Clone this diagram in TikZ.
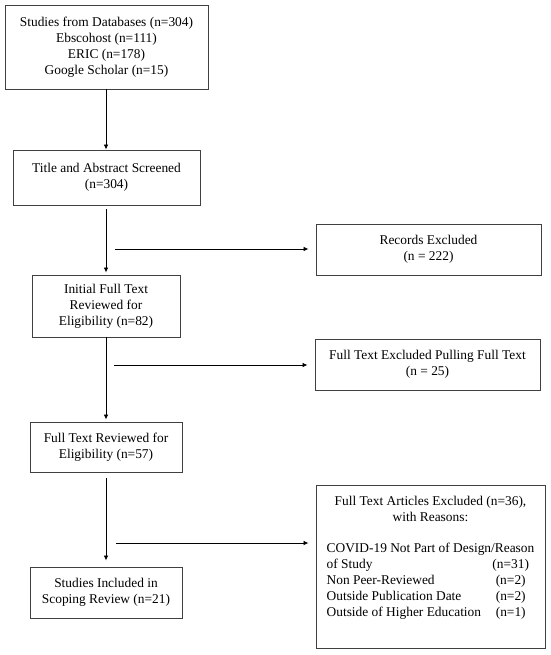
\documentclass[tikz,border=0pt]{standalone}
\usepackage{fontspec}
\setmainfont{Liberation Serif}
\usetikzlibrary{arrows.meta}
\usetikzlibrary{positioning}

\begin{document}
\begin{tikzpicture}[x=1pt, y=-1pt,
  flowbox/.style={draw=black!75, line width=0.9pt, align=center, inner sep=2pt,
    font=\fontsize{13.4}{16}\selectfont},
  flowarr/.style={-{Latex[length=5pt,width=4.5pt]}, line width=0.8pt}]
\useasboundingbox (0,0) rectangle (550,655);
% main column
\node[flowbox, minimum width=203pt, minimum height=84pt] (db) at (106.5,47)
  {Studies from Databases (n=304)\\Ebscohost (n=111)\\ERIC (n=178)\\Google Scholar (n=15)};
\node[flowbox, minimum width=187pt, minimum height=55pt] (screen) at (106.5,177.5)
  {Title and Abstract Screened\\(n=304)};
\node[flowbox, minimum width=148pt, minimum height=62pt] (initial) at (106,306)
  {Initial Full Text\\Reviewed for\\Eligibility (n=82)};
\node[flowbox, minimum width=152pt, minimum height=50pt] (full) at (106,447)
  {Full Text Reviewed for\\Eligibility (n=57)};
\node[flowbox, minimum width=152pt, minimum height=51pt] (incl) at (106,592.5)
  {Studies Included in\\Scoping Review (n=21)};
% excluded column
\node[flowbox, minimum width=225pt, minimum height=51pt] (rec) at (428.5,249.5)
  {Records Excluded\\(n = 222)};
\node[flowbox, minimum width=225pt, minimum height=51pt] (pull) at (427.5,364.5)
  {Full Text Excluded Pulling Full Text\\(n = 25)};
\node[flowbox, minimum width=229pt, minimum height=163pt] (art) at (430.5,566.5)
  {\begin{tabular}{@{}l@{\hspace{6pt}}c@{}}
   \multicolumn{2}{@{}c@{}}{Full Text Articles Excluded (n=36),}\\
   \multicolumn{2}{@{}c@{}}{with Reasons:}\\[15pt]
   \multicolumn{2}{@{}l@{}}{COVID-19 Not Part of Design/Reason}\\
   of Study & (n=31)\\
   Non Peer-Reviewed & (n=2)\\
   Outside Publication Date & (n=2)\\
   Outside of Higher Education & (n=1)\\[18pt]
   \end{tabular}};
\coordinate (e1) at (115,249);
\coordinate (e2) at (114,365);
\coordinate (e3) at (116,543);
\draw[flowarr] (initial.north |- db.south) -- (initial.north |- screen.north);
\draw[flowarr, shorten <=4pt, shorten >=2pt] (initial.north |- screen.south) -- (initial.north);
\draw[flowarr, shorten >=2pt] (initial.south) -- (full.north);
\draw[flowarr, shorten <=6pt, shorten >=6pt] (full.south) -- (incl.north);
\draw[flowarr, shorten >=7pt] (e1) -- (e1 -| rec.west);
\draw[flowarr, shorten >=7pt] (e2) -- (e2 -| pull.west);
\draw[flowarr, shorten >=7pt] (e3) -- (e3 -| art.west);
\end{tikzpicture}
\end{document}
